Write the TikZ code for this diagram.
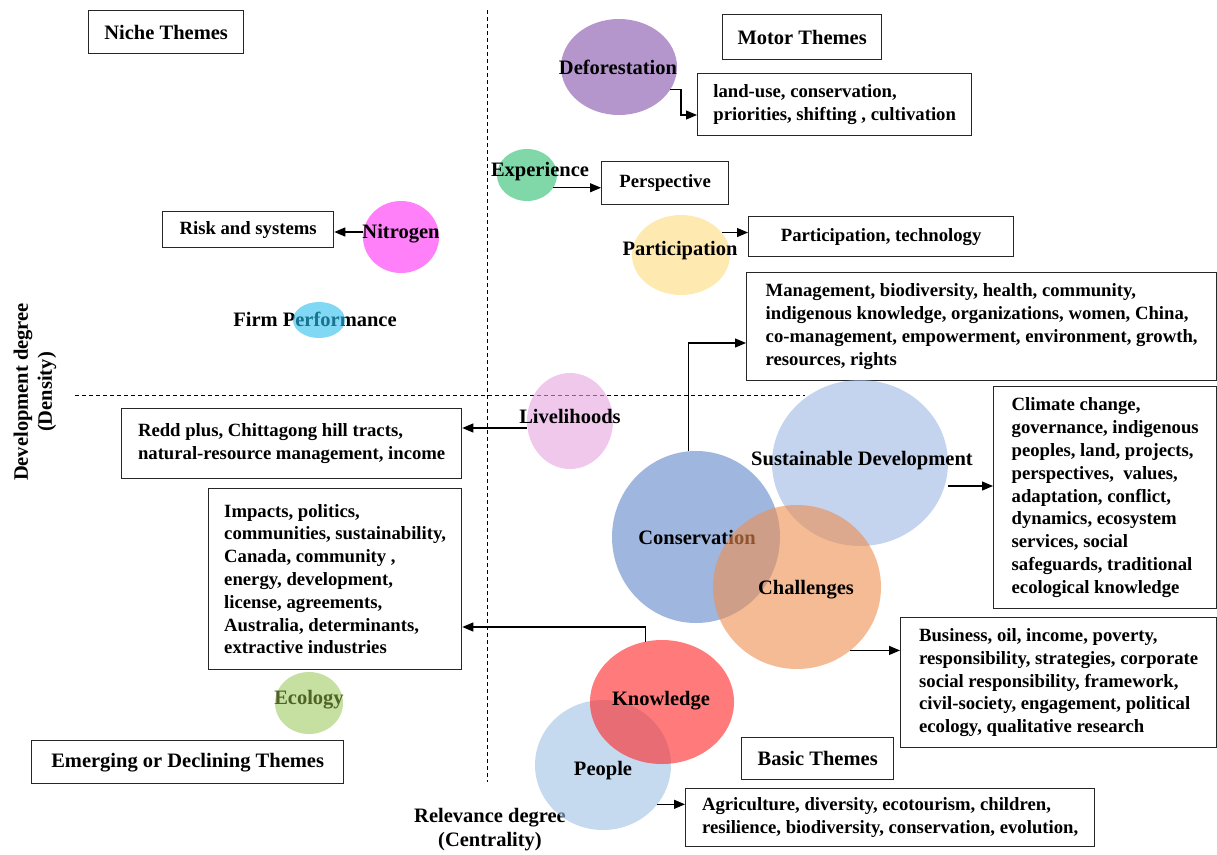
\documentclass[tikz,border=0pt]{standalone}
\usepackage{fontspec}
\setmainfont{Liberation Serif}
\usetikzlibrary{shapes.geometric,arrows.meta,calc}

\definecolor{deforc}{RGB}{130,80,172}
\definecolor{experc}{RGB}{43,190,110}
\definecolor{particc}{RGB}{253,220,123}
\definecolor{nitroc}{RGB}{255,43,243}
\definecolor{firmc}{RGB}{43,190,238}
\definecolor{livelic}{RGB}{230,163,223}
\definecolor{susdevc}{RGB}{157,182,227}
\definecolor{conservc}{RGB}{95,133,202}
\definecolor{challengc}{RGB}{238,142,78}
\definecolor{knowc}{RGB}{255,35,35}
\definecolor{peoplec}{RGB}{158,193,227}
\definecolor{ecologyc}{RGB}{158,203,97}
\definecolor{ecologyt}{RGB}{79,98,40}

\newcommand{\boxfont}{\fontsize{18.7}{22.8}\selectfont\bfseries}
\newcommand{\lblfont}{\fontsize{20.5}{24}\selectfont\bfseries}

\begin{document}
\begin{tikzpicture}[x=1pt,y=-1pt,
	theme/.style={draw=none,shape=ellipse,fill=#1,fill opacity=.6,inner sep=0pt,outer sep=0pt},
	lbl/.style={font=\lblfont,inner sep=0pt},
	kwbox/.style={draw=black!85,line width=1.3pt,anchor=north west,align=left,inner sep=0pt,font=\boxfont},
	headbox/.style={draw=black!85,line width=1.3pt,anchor=north west,inner sep=0pt,font=\lblfont},
	link/.style={line width=1.2pt,->},
	>={Triangle[length=11pt,width=9pt]}]
	
	\useasboundingbox (0,0) rectangle (1217,854);
	
	\coordinate (vtop) at (487,10);
	\coordinate (vbot) at (487,782);
	\coordinate (hleft) at (75,395);
	\coordinate (hright) at (805,395);
	
	%---------------------------------------------
	
	\draw [dashed,line width=1pt,dash pattern=on 4pt off 3pt] (vtop) -- (vbot);
	\draw [dashed,line width=1pt,dash pattern=on 4pt off 3pt] (hleft) -- (hright);
	
	\node [lbl,rotate=90,align=center] (ylab) at (35,392) {Development degree\\(Density)};
	\node [lbl,align=center] (xlab) at (490,830) {Relevance degree\\(Centrality)};
	
	%---------------------------------------------
	
	\node [headbox,minimum width=155,minimum height=43] (niche) at (88,10) {Niche Themes};
	\node [headbox,minimum width=159,minimum height=45] (motor) at (722,14) {Motor Themes};
	\node [headbox,minimum width=312,minimum height=43] (emerg) at (31,740) {Emerging or Declining Themes};
	\node [headbox,minimum width=152,minimum height=42] (basic) at (741,737) {Basic Themes};
	
	%---------------------------------------------
	
	\node [kwbox,minimum width=274,minimum height=62] (landuse) at (697,73) {land-use, conservation,\\priorities, shifting , cultivation};
	\node [kwbox,minimum width=127,minimum height=43] (persp) at (601,161) {Perspective};
	\node [kwbox,minimum width=265,minimum height=40] (partbox) at (748,216) {Participation, technology};
	\node [kwbox,minimum width=171,minimum height=36] (risk) at (162,211) {Risk and systems};
	\node [kwbox,minimum width=470,minimum height=108] (mgmt) at (746,272) {Management, biodiversity, health, community,\\indigenous knowledge, organizations, women, China,\\co-management, empowerment, environment, growth,\\resources, rights};
	\node [kwbox,minimum width=340,minimum height=70] (redd) at (121,408) {Redd plus, Chittagong hill tracts,\\natural-resource management, income};
	\node [kwbox,minimum width=223,minimum height=222] (climate) at (993,386) {Climate change,\\governance, indigenous\\peoples, land, projects,\\perspectives,\ \ values,\\adaptation, conflict,\\dynamics, ecosystem\\services, social\\safeguards, traditional\\ecological knowledge};
	\node [kwbox,minimum width=253,minimum height=181] (impacts) at (208,488) {Impacts, politics,\\communities, sustainability,\\Canada, community ,\\energy, development,\\license, agreements,\\Australia, determinants,\\extractive industries};
	\node [kwbox,minimum width=316,minimum height=130] (business) at (900,617) {Business, oil, income, poverty,\\responsibility, strategies, corporate\\social responsibility, framework,\\civil-society, engagement, political\\ecology, qualitative research};
	\node [kwbox,minimum width=409,minimum height=58] (agri) at (685,788) {Agriculture, diversity, ecotourism, children,\\resilience, biodiversity, conservation, evolution,};
	
	%---------------------------------------------
	
	\node [theme=deforc,minimum width=116,minimum height=96] (defor) at (619,67) {};
	\node [lbl] (defor-t) at (618,67) {Deforestation};
	
	\node [theme=experc,minimum width=60,minimum height=52] (exper) at (527,175) {};
	\node [lbl] (exper-t) at (540,172) {Experience};
	
	\node [theme=particc,minimum width=98,minimum height=80] (partic) at (681,255) {};
	\node [lbl] (partic-t) at (680,251) {Participation};
	
	\node [theme=nitroc,minimum width=76,minimum height=72] (nitro) at (401,237) {};
	\node [lbl] (nitro-t) at (401,234) {Nitrogen};
	
	\node [lbl] (firm-t) at (315,319) {Firm Performance};
	\node [theme=firmc,minimum width=52,minimum height=36] (firm) at (319,320) {};
	
	\node [theme=livelic,minimum width=86,minimum height=96] (liveli) at (570,421) {};
	\node [lbl] (liveli-t) at (570,416) {Livelihoods};
	
	\node [theme=susdevc,minimum width=176,minimum height=166] (susdev) at (860,463) {};
	\node [lbl] (susdev-t) at (862,461) {Sustainable Development};
	
	\node [theme=conservc,minimum width=168,minimum height=172] (conserv) at (696,537) {};
	\node [lbl] (conserv-t) at (697,537) {Conservation};
	
	\node [theme=challengc,minimum width=168,minimum height=164] (challeng) at (797,587) {};
	\node [lbl] (challeng-t) at (806,590) {Challenges};
	
	\node [theme=peoplec,minimum width=136,minimum height=130] (people) at (603,765) {};
	\node [lbl] (people-t) at (603,771) {People};
	
	\node [theme=knowc,minimum width=144,minimum height=124] (know) at (662,702) {};
	\node [lbl] (know-t) at (661,701) {Knowledge};
	
	\node [theme=ecologyc,minimum width=68,minimum height=62] (ecology) at (309,703) {};
	\node [lbl,text=ecologyt] (ecology-t) at (309,700) {Ecology};
	
	%---------------------------------------------
	
	\draw [link] (defor.-24) -- ++(11,0) |- (landuse.west |- 0,115);
	\draw [link] (exper.-26) -- (persp.west |- exper.-26);
	\draw [link] (partic.29) -- (partbox.west |- partic.29);
	\draw [link] (nitro.west |- 0,232) -- (risk.east |- 0,232);
	\draw [link] (conserv.95) |- (mgmt.west |- 0,343);
	\draw [link] (susdev.east |- 0,486) -- (climate.west |- 0,486);
	\draw [link] (challeng.-50) -- (business.west |- challeng.-50);
	\draw [link] (liveli.west |- 0,428) -- (redd.east |- 0,428);
	\draw [link] (know.105) |- (impacts.east |- 0,627);
	\draw [link] (people.-36) -- (agri.west |- people.-36);
	
	%---------------------------------------------
	
\end{tikzpicture}
\end{document}
